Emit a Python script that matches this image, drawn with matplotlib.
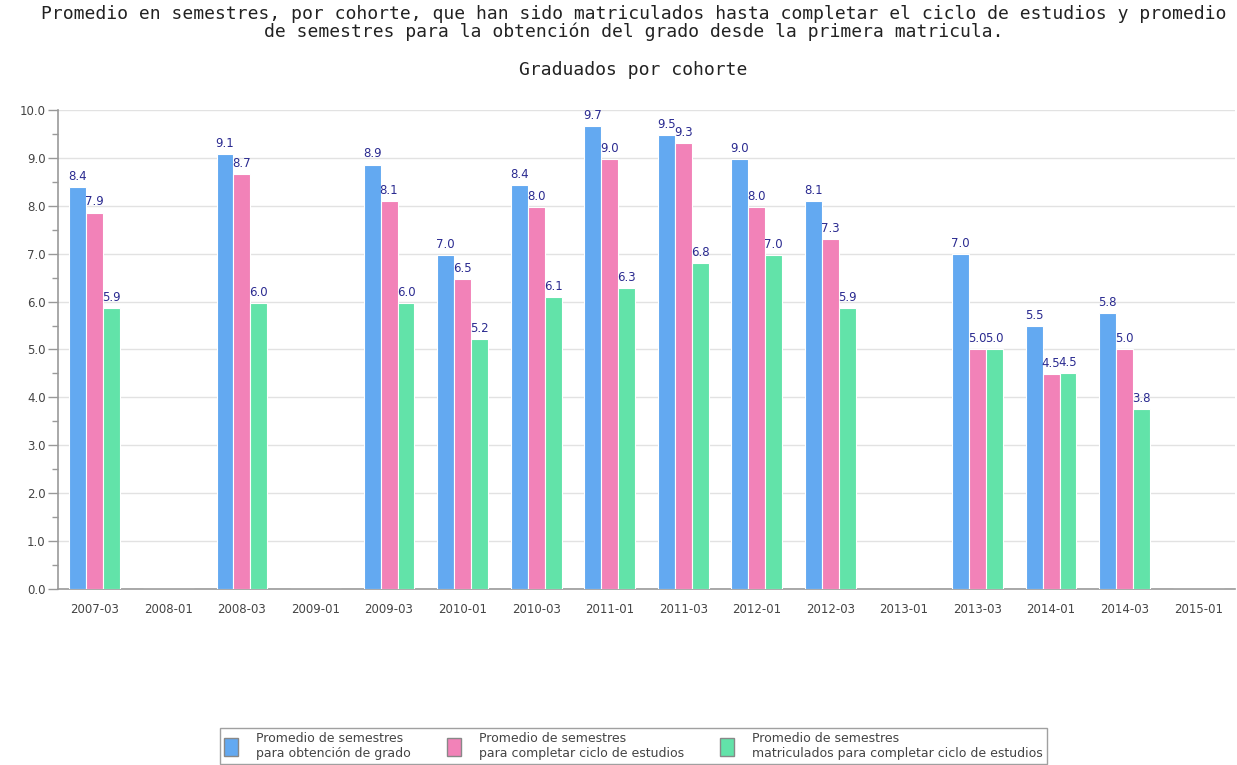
import numpy as np
import matplotlib
matplotlib.use("Agg")
import matplotlib.pyplot as plt
from matplotlib.ticker import MultipleLocator, FormatStrFormatter

# cohortes y promedios de semestres (None = sin graduados)
cohortes = ["2007-03", "2008-01", "2008-03", "2009-01", "2009-03", "2010-01",
            "2010-03", "2011-01", "2011-03", "2012-01", "2012-03", "2013-01",
            "2013-03", "2014-01", "2014-03", "2015-01"]
obtencion_grado = [8.39, None, 9.08, None, 8.86, 6.97, 8.43, 9.66, 9.47, 8.98,
                   8.10, None, 7.0, 5.49, 5.76, None]
completar_ciclo = [7.86, None, 8.66, None, 8.10, 6.47, 7.97, 8.98, 9.31, 7.97,
                   7.31, None, 5.0, 4.49, 5.0, None]
matriculados_ciclo = [5.86, None, 5.97, None, 5.97, 5.22, 6.10, 6.28, 6.81, 6.97,
                      5.87, None, 5.0, 4.5, 3.76, None]

series = [
    ("Promedio de semestres\npara obtención de grado", obtencion_grado, "#63a9f1"),
    ("Promedio de semestres\npara completar ciclo de estudios", completar_ciclo, "#f282b8"),
    ("Promedio de semestres\nmatriculados para completar ciclo de estudios", matriculados_ciclo, "#62e3a9"),
]

fig = plt.figure(figsize=(12.37, 7.65), dpi=100)
ax = fig.add_axes([0.0469, 0.2301, 0.9515, 0.6261])

x = np.arange(len(cohortes))
width = 0.23
for i, (label, vals, color) in enumerate(series):
    pos = x + (i - 1) * width
    heights = [v if v is not None else 0 for v in vals]
    bars = ax.bar(pos, heights, width, color=color, edgecolor="white",
                  linewidth=0.8, label=label, zorder=3)
    # valor encima de cada barra
    for b, v in zip(bars, vals):
        if v is None:
            continue
        ax.annotate(f"{v:.1f}", (b.get_x() + b.get_width() / 2, v),
                    xytext=(0, 3), textcoords="offset points",
                    ha="center", va="bottom", fontsize=8.5, color="#2a2a90",
                    zorder=4)

ax.set_xlim(-0.5, len(cohortes) - 0.5)
ax.set_ylim(0, 10)
ax.set_xticks(x)
ax.set_xticklabels(cohortes)
ax.yaxis.set_major_locator(MultipleLocator(1))
ax.yaxis.set_minor_locator(MultipleLocator(0.5))
ax.yaxis.set_major_formatter(FormatStrFormatter("%.1f"))
ax.grid(axis="y", color="#e2e2e2", linewidth=1, zorder=0)

for s in ["top", "right"]:
    ax.spines[s].set_visible(False)
for s in ["left", "bottom"]:
    ax.spines[s].set_color("#999999")
    ax.spines[s].set_linewidth(1.2)

ax.tick_params(axis="x", length=0, pad=10, labelsize=8.5, labelcolor="#444444")
ax.tick_params(axis="y", which="major", length=7, width=1, color="#999999",
               labelsize=8.5, labelcolor="#444444", pad=2)
ax.tick_params(axis="y", which="minor", length=4, width=1, color="#999999")

fig.text(0.512, 0.993, "Promedio en semestres, por cohorte, que han sido matriculados "
         "hasta completar el ciclo de estudios y promedio\nde semestres para la "
         "obtención del grado desde la primera matricula.",
         ha="center", va="top", fontsize=13, family="DejaVu Sans Mono",
         color="#222222", linespacing=0.95)
fig.text(0.512, 0.908, "Graduados por cohorte", ha="center", va="center",
         fontsize=13, family="DejaVu Sans Mono", color="#222222")

leg = fig.legend(loc="upper center", bbox_to_anchor=(0.512, 0.049), ncol=3,
                 fontsize=9, frameon=True, fancybox=False, edgecolor="#888888",
                 handlelength=1.15, handleheight=1.9, columnspacing=2.9,
                 handletextpad=1.4, borderpad=0.35, borderaxespad=0)
leg.get_frame().set_linewidth(1)
for t in leg.get_texts():
    t.set_color("#444444")
for h in leg.legend_handles:
    h.set_edgecolor("#888888")
    h.set_linewidth(1)

fig.savefig("out.png", dpi=100)
